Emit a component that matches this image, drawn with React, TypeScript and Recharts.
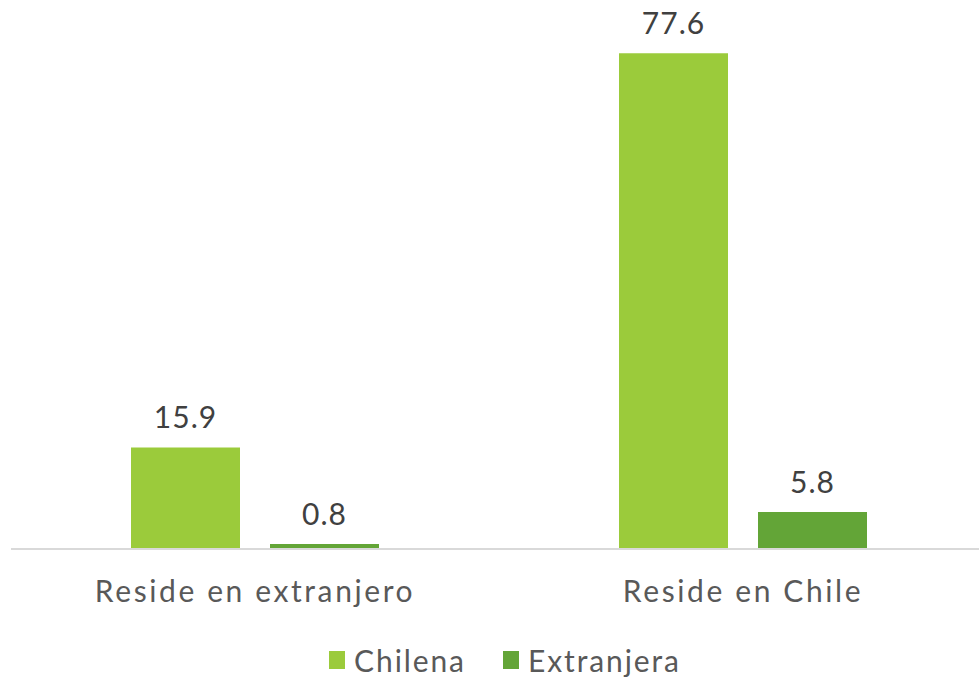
import React from "react";
import { BarChart, Bar, XAxis, YAxis, Legend, LabelList } from "recharts";

const categories = ["Reside en extranjero", "Reside en Chile"];
const chilena = [15.9, 77.6];
const extranjera = [0.8, 5.8];

const data = categories.map((c, i) => ({ name: c, Chilena: chilena[i], Extranjera: extranjera[i] }));

const FONT = "Lato, 'Open Sans', sans-serif";
const C1 = "#9BCB3B";
const C2 = "#63A537";
const SPACING = 2.6;

const renderLegend = () => (
  <div
    style={{
      boxSizing: "border-box",
      height: 49,
      paddingTop: 12,
      paddingLeft: 12,
      display: "flex",
      justifyContent: "center",
      fontFamily: FONT,
      fontSize: 30,
      color: "#595959",
      lineHeight: "36px",
      letterSpacing: 1.9,
    }}
  >
    {[
      { n: "Chilena", c: C1 },
      { n: "Extranjera", c: C2 },
    ].map((it, i) => (
      <div key={it.n} style={{ display: "flex", alignItems: "center", marginLeft: i ? 37 : 0 }}>
        <span style={{ display: "inline-block", width: 16, height: 18, background: it.c, marginRight: 9 }} />
        <span>{it.n}</span>
      </div>
    ))}
  </div>
);

export default function App() {
  return (
    <div style={{ position: "absolute", left: 0, top: 0, width: 979, height: 678, overflow: "hidden", background: "#fff" }}>
      <BarChart
        width={1000}
        height={678}
        data={data}
        margin={{ top: 38, right: 13, left: 11, bottom: 0 }}
        barCategoryGap={120}
        barGap={30}
      >
        <YAxis hide domain={[0, 80]} />
        <XAxis
          dataKey="name"
          height={80}
          tickLine={false}
          tickSize={0}
          tickMargin={32}
          axisLine={{ stroke: "#D9D9D9", strokeWidth: 2 }}
          tick={{ fill: "#595959", fontSize: 30, fontFamily: FONT, letterSpacing: SPACING }}
          interval={0}
        />
        <Legend verticalAlign="bottom" height={49} content={renderLegend} />
        <Bar dataKey="Chilena" fill={C1} isAnimationActive={false}>
          <LabelList dataKey="Chilena" position="top" offset={19} fill="#404040" fontSize={30} fontFamily={FONT} letterSpacing={1} />
        </Bar>
        <Bar dataKey="Extranjera" fill={C2} isAnimationActive={false}>
          <LabelList dataKey="Extranjera" position="top" offset={19} fill="#404040" fontSize={30} fontFamily={FONT} letterSpacing={1} />
        </Bar>
      </BarChart>
    </div>
  );
}
